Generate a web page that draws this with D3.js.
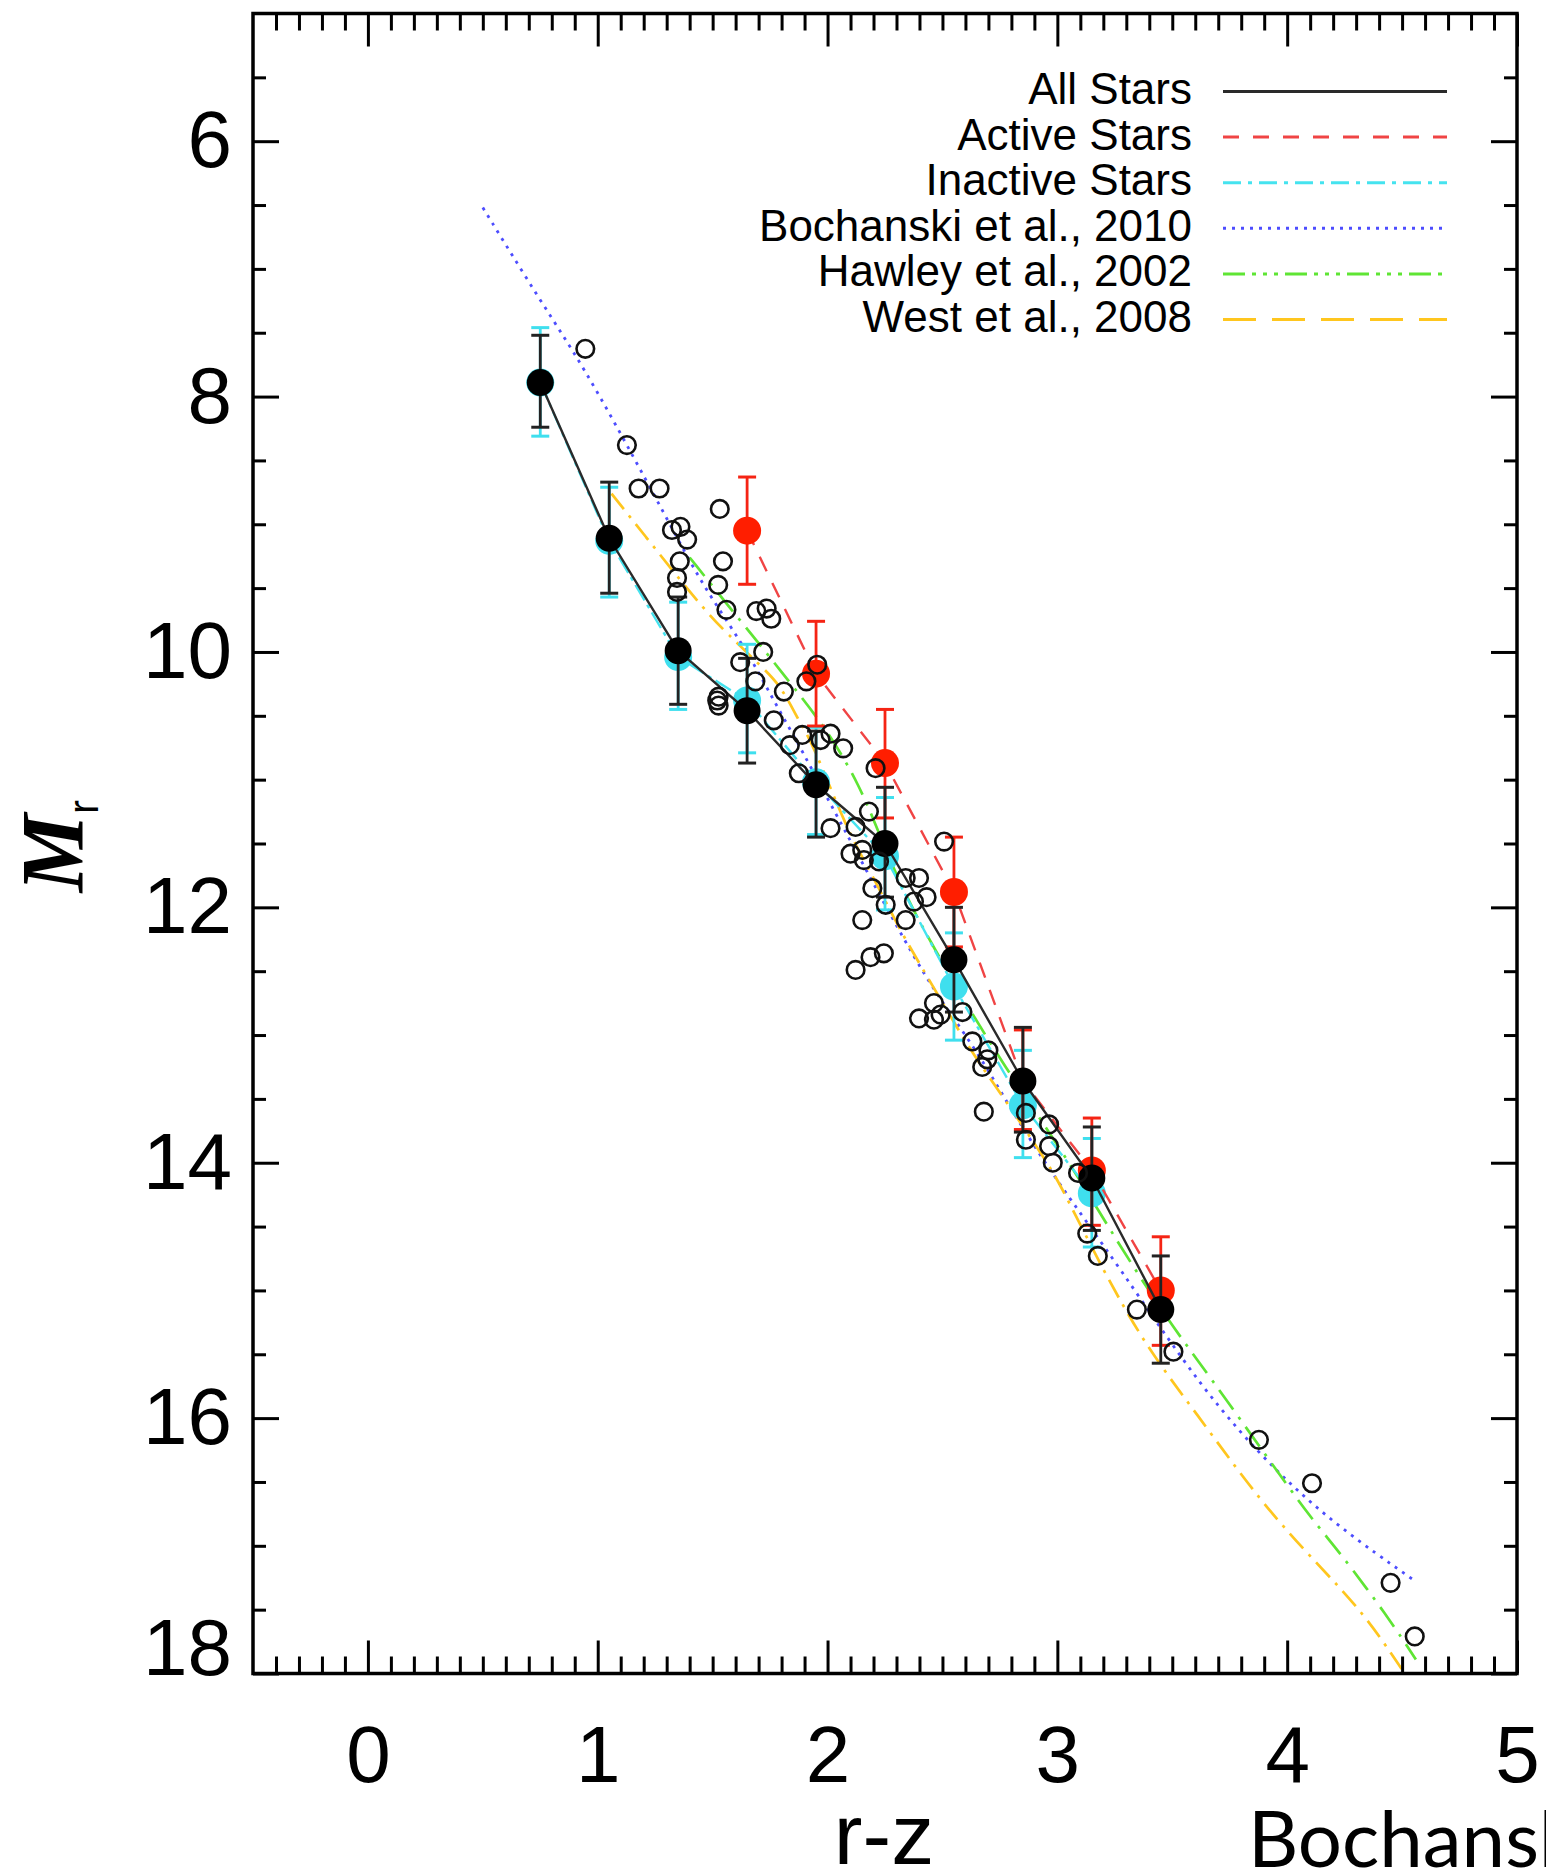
<!DOCTYPE html>
<html><head><meta charset="utf-8">
<script src="https://cdn.jsdelivr.net/npm/d3@7"></script>
<style>html,body{margin:0;padding:0;background:#fff;overflow:hidden;} svg{display:block}</style>
</head><body><svg id="c" width="1546" height="1874"></svg>
<script>
// ---------- data ----------
const xTicks = [0, 1, 2, 3, 4, 5];
const yTicks = [6, 8, 10, 12, 14, 16, 18];

const allColor = [0.75, 1.05, 1.35, 1.65, 1.95, 2.25, 2.55, 2.85, 3.15, 3.45];
const allMr    = [7.89, 9.11, 9.99, 10.46, 11.04, 11.50, 12.41, 13.36, 14.12, 15.15];
const allLo    = [7.52, 8.67, 9.57, 10.05, 10.62, 11.06, 12.00, 12.94, 13.72, 14.73];
const allHi    = [8.24, 9.54, 10.41, 10.87, 11.45, 11.92, 12.82, 13.76, 14.53, 15.57];

const actColor = [1.65, 1.95, 2.25, 2.55, 2.85, 3.15, 3.45];
const actMr    = [9.05, 10.17, 10.87, 11.88, 13.36, 14.06, 15.00];
const actLo    = [8.63, 9.76, 10.45, 11.45, 12.96, 13.65, 14.58];
const actHi    = [9.47, 10.58, 11.30, 12.31, 13.74, 14.49, 15.43];

const inaColor = [0.75, 1.05, 1.35, 1.65, 1.95, 2.25, 2.55, 2.85, 3.15];
const inaMr    = [7.89, 9.13, 10.04, 10.38, 11.02, 11.60, 12.62, 13.55, 14.24];
const inaLo    = [7.46, 8.71, 9.61, 9.94, 10.59, 11.14, 12.20, 13.12, 13.81];
const inaHi    = [8.31, 9.57, 10.45, 10.79, 11.43, 12.02, 13.04, 13.96, 14.66];

const bochX = [0.50, 0.75, 0.94, 1.17, 1.32, 1.46, 1.64, 1.75, 1.87, 1.98, 2.30, 2.46, 2.65, 2.81, 3.00, 3.26, 3.63, 3.95, 4.22, 4.56];
const bochY = [6.52, 7.25, 7.77, 8.52, 9.02, 9.49, 9.96, 10.33, 10.71, 11.08, 12.15, 12.65, 13.12, 13.62, 14.15, 14.79, 15.78, 16.42, 16.85, 17.28];

const hawX = [1.40, 1.56, 1.74, 1.85, 2.01, 2.14, 2.22, 2.32, 2.45, 2.71, 3.03, 3.22, 3.47, 3.67, 3.91, 4.11, 4.22, 4.44, 4.56];
const hawY = [9.26, 9.62, 10.02, 10.27, 10.64, 11.05, 11.40, 11.84, 12.28, 13.09, 13.93, 14.50, 15.21, 15.69, 16.30, 16.80, 17.03, 17.56, 17.89];

const westX = [1.06, 1.21, 1.36, 1.48, 1.56, 1.71, 1.80, 1.88, 1.93, 2.09, 2.20, 2.32, 2.46, 2.61, 2.75, 2.97, 3.04, 3.21, 3.39, 3.60, 3.89, 4.13, 4.335, 4.50];
const westY = [8.76, 9.10, 9.44, 9.70, 9.85, 10.11, 10.27, 10.56, 10.69, 11.42, 11.76, 12.20, 12.62, 13.09, 13.45, 14.03, 14.27, 14.88, 15.45, 15.95, 16.67, 17.14, 17.53, 17.97];

const starX = [0.946, 1.127, 1.178, 1.269, 1.531, 1.323, 1.36, 1.389, 1.357, 1.545, 1.345, 1.345, 1.524, 1.56, 1.69, 1.735, 1.755, 1.72, 1.62, 1.686, 1.81, 1.908, 1.955, 1.526, 1.52, 1.526, 1.766, 1.836, 1.89, 1.97, 2.013, 2.068, 1.875, 2.209,
  2.18, 2.013, 2.122, 2.507, 2.10, 2.151, 2.158, 2.224, 2.34, 2.398, 2.376, 2.431, 2.195, 2.253, 2.151, 2.34, 2.122, 2.187, 2.245, 2.398, 2.463, 2.492, 2.463, 2.587, 2.63, 2.70, 2.695, 2.673, 2.68, 2.863, 2.863, 2.964, 2.964, 2.98, 3.09,
  3.13, 3.176, 3.346, 3.505, 3.877, 4.108, 4.45, 4.555];
const starY = [7.626, 8.38, 8.72, 8.72, 8.88, 9.045, 9.02, 9.12, 9.29, 9.29, 9.42, 9.53, 9.475, 9.67, 9.68, 9.66, 9.74, 10.0, 10.08, 10.23, 10.31, 10.23, 10.10, 10.35, 10.38, 10.42, 10.535, 10.73, 10.65, 10.69, 10.64, 10.755, 10.95, 10.91,
  11.25, 11.38, 11.37, 11.485, 11.58, 11.55, 11.63, 11.64, 11.77, 11.77, 11.955, 11.92, 11.85, 11.98, 12.10, 12.10, 12.49, 12.39, 12.36, 12.87, 12.75, 12.84, 12.88, 12.82, 13.05, 13.12, 13.19, 13.25, 13.60, 13.61, 13.82, 13.70, 13.87, 14.0, 14.08,
  14.555, 14.73, 15.15, 15.48, 16.17, 16.51, 17.29, 17.71];

const legendNames = ["All Stars", "Active Stars", "Inactive Stars", "Bochanski et al., 2010", "Hawley et al., 2002", "West et al., 2008"];

// ---------- layout ----------
const L = 253, R = 1517, T = 13.5, B = 1673.5;
const svg = d3.select("#c");
const x = d3.scaleLinear().domain([-0.5, 5]).range([L, R]);
const y = d3.scaleLinear().domain([5, 18]).range([T, B]);
const FONT = "'Liberation Sans', Arial, Helvetica, sans-serif";

const C = {
  all: "#2a2a2a", act: "#f04444", actPt: "#ff1e00", ina: "#45e3ef", inaPt: "#3fdfee",
  boch: "#4d4dff", haw: "#5fe534", west: "#ffc61e"
};

svg.append("rect").attr("width", 1546).attr("height", 1874).attr("fill", "#fff");
svg.append("clipPath").attr("id", "clip").append("rect")
  .attr("x", L).attr("y", T).attr("width", R - L).attr("height", B - T);

const plot = svg.append("g").attr("clip-path", "url(#clip)");

const line = (xs, ys, curve) => d3.line().x(i => x(xs[i])).y(i => y(ys[i])).curve(curve || d3.curveLinear)(d3.range(xs.length));

// model curves
plot.append("path").attr("d", line(bochX, bochY, d3.curveBasis)).attr("fill", "none")
  .attr("stroke", C.boch).attr("stroke-width", 2.8).attr("stroke-dasharray", "3,6").attr("stroke-linecap", "butt");
plot.append("path").attr("d", line(hawX, hawY, d3.curveBasis)).attr("fill", "none")
  .attr("stroke", C.haw).attr("stroke-width", 2.7).attr("stroke-dasharray", "24,9,3,9");
plot.append("path").attr("d", line(westX, westY, d3.curveBasis)).attr("fill", "none")
  .attr("stroke", C.west).attr("stroke-width", 2.7).attr("stroke-dasharray", "20,8,3,8");

function errorSet(xs, mr, lo, hi, lineColor, barColor, ptColor, dash, r) {
  const g = plot.append("g");
  g.append("path").attr("d", line(xs, mr)).attr("fill", "none").attr("stroke", lineColor)
    .attr("stroke-width", 2.4).attr("stroke-dasharray", dash);
  xs.forEach((xv, i) => {
    g.append("line").attr("x1", x(xv)).attr("x2", x(xv)).attr("y1", y(lo[i])).attr("y2", y(hi[i]))
      .attr("stroke", barColor).attr("stroke-width", 2.8);
    [lo[i], hi[i]].forEach(v => g.append("line").attr("x1", x(xv) - 9).attr("x2", x(xv) + 9)
      .attr("y1", y(v)).attr("y2", y(v)).attr("stroke", barColor).attr("stroke-width", 3));
  });
  g.selectAll("circle").data(xs).enter().append("circle")
    .attr("cx", d => x(d)).attr("cy", (d, i) => y(mr[i])).attr("r", (d, i) => (Math.abs(d - 2.85) < 0.01 && r === 14 && ptColor === C.actPt) ? 13 : r).attr("fill", ptColor);
}
errorSet(inaColor, inaMr, inaLo, inaHi, C.ina, C.inaPt, C.inaPt, "18,5,4,5", 14);
errorSet(actColor, actMr, actLo, actHi, C.act, "#f52414", C.actPt, "16,13", 14);
errorSet(allColor, allMr, allLo, allHi, C.all, "#222", "#000", null, 13.5);

// individual stars (open circles)
plot.append("g").selectAll("circle").data(starX).enter().append("circle")
  .attr("cx", d => x(d)).attr("cy", (d, i) => y(starY[i])).attr("r", 8.8)
  .attr("fill", "none").attr("stroke", "#111").attr("stroke-width", 2.6);

// ---------- axes ----------
const yMinor = d3.range(5.5, 18, 0.5).filter(v => Math.abs(v % 2) > 0.01);
const xMinor = d3.range(-0.4, 5.0, 0.1).map(v => +v.toFixed(1)).filter(v => Math.abs(v - Math.round(v)) > 0.01);

function styleAxis(g) {
  g.select(".domain").remove();
  g.selectAll(".tick line").attr("stroke", "#000").attr("stroke-width", 3);
  g.selectAll("text").attr("font-family", FONT).attr("font-size", 80).attr("fill", "#000");
}
const yl = svg.append("g").attr("transform", `translate(${L},0)`)
  .call(d3.axisLeft(y).tickValues(yTicks).tickSize(-26).tickPadding(21).tickFormat(d3.format("d"))).call(styleAxis);
yl.selectAll(".tick text").filter(d => d === 18).attr("y", -25);
svg.append("g").attr("transform", `translate(${L},0)`)
  .call(d3.axisLeft(y).tickValues(yMinor).tickSize(-13).tickFormat("")).call(styleAxis);
svg.append("g").attr("transform", `translate(${R},0)`)
  .call(d3.axisRight(y).tickValues(yTicks).tickSize(-26).tickFormat("")).call(styleAxis);
svg.append("g").attr("transform", `translate(${R},0)`)
  .call(d3.axisRight(y).tickValues(yMinor).tickSize(-13).tickFormat("")).call(styleAxis);
svg.append("g").attr("transform", `translate(0,${B})`)
  .call(d3.axisBottom(x).tickValues(xTicks).tickSize(-33).tickPadding(52).tickFormat(d3.format("d"))).call(styleAxis);
svg.append("g").attr("transform", `translate(0,${B})`)
  .call(d3.axisBottom(x).tickValues(xMinor).tickSize(-17).tickFormat("")).call(styleAxis);
svg.append("g").attr("transform", `translate(0,${T})`)
  .call(d3.axisTop(x).tickValues(xTicks).tickSize(-33).tickFormat("")).call(styleAxis);
svg.append("g").attr("transform", `translate(0,${T})`)
  .call(d3.axisTop(x).tickValues(xMinor).tickSize(-17).tickFormat("")).call(styleAxis);

svg.append("rect").attr("x", L).attr("y", T).attr("width", R - L).attr("height", B - T)
  .attr("fill", "none").attr("stroke", "#000").attr("stroke-width", 3.5);

// axis titles
svg.append("text").attr("x", 884).attr("y", 1864).attr("text-anchor", "middle")
  .attr("font-family", FONT).attr("font-size", 86).text("r-z");
const yt = svg.append("text").attr("transform", "translate(82,846) rotate(-90)").attr("text-anchor", "middle");
yt.append("tspan").attr("font-family", "'Liberation Serif', 'Times New Roman', serif")
  .attr("font-weight", "bold").attr("font-style", "italic").attr("font-size", 88).text("M");
yt.append("tspan").attr("font-family", FONT).attr("font-size", 42).attr("dy", 16).text("r");

svg.append("text").attr("x", 1248).attr("y", 1867).attr("font-family", "Lato, 'Open Sans', sans-serif")
  .attr("font-size", 78).attr("fill", "#000").text("Bochanski");

// ---------- legend ----------
const legStyles = [
  { c: C.all, d: null }, { c: C.act, d: "16,14" }, { c: C.ina, d: "18,7,4,7" },
  { c: C.boch, d: "3,6" }, { c: C.haw, d: "22,7,4,7,4,7,4,7" }, { c: C.west, d: "33,16" }
];
const leg = svg.append("g");
legendNames.forEach((name, i) => {
  leg.append("text").attr("x", 1192).attr("y", 104 + i * 45.6).attr("text-anchor", "end")
    .attr("font-family", FONT).attr("font-size", 44).attr("fill", "#000").text(name);
  leg.append("line").attr("x1", 1223).attr("x2", 1447).attr("y1", 91.5 + i * 45.6).attr("y2", 91.5 + i * 45.6)
    .attr("stroke", legStyles[i].c).attr("stroke-width", 3).attr("stroke-dasharray", legStyles[i].d);
});
</script></body></html>
